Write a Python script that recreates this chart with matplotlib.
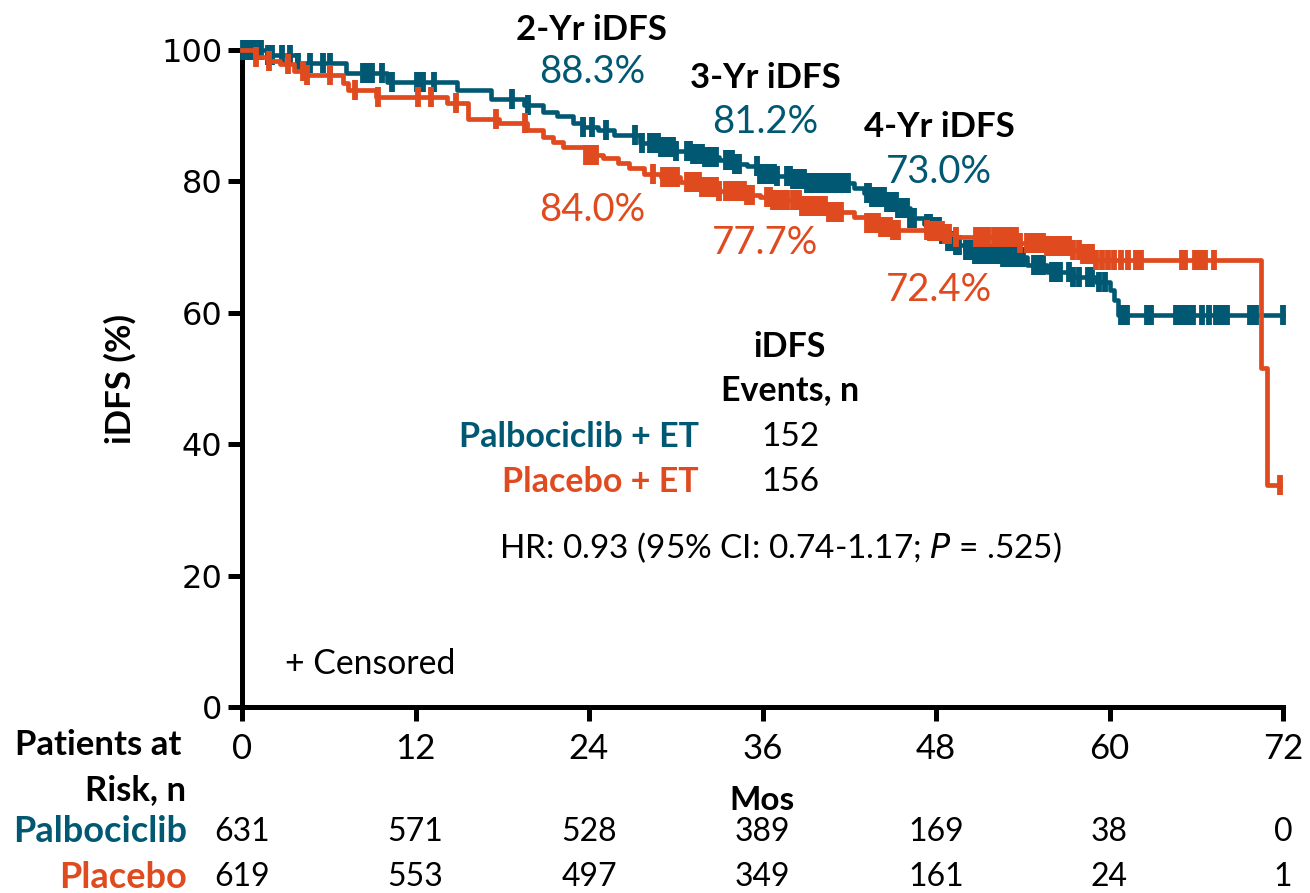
import numpy as np
import matplotlib
matplotlib.use("Agg")
import matplotlib.pyplot as plt
from matplotlib.transforms import blended_transform_factory

plt.rcParams["font.family"] = ["Lato", "DejaVu Sans"]

TEAL = "#005873"
ORANGE = "#E04A1F"

# Kaplan-Meier step curves (months, iDFS %)
palbo_times = [0, 1.7, 3.8, 7.2, 10.0, 14.9, 17.2, 19.5, 20.8, 21.8, 22.9, 23.6,
               24.6, 25.7, 27.5, 28.9, 30.0, 31.2, 32.0, 33.0, 34.0, 34.9, 35.8,
               37.0, 38.1, 39.1, 42.3, 43.0, 43.6, 44.6, 45.4, 46.2, 47.2, 47.8,
               48.3, 48.8, 49.4, 50.0, 50.6, 52.6, 54.3, 55.7, 57.5, 59.1, 60.0,
               60.3, 60.6]
palbo_surv = [100, 99.2, 98.0, 96.5, 95.2, 93.9, 92.6, 91.6, 90.6, 89.9, 88.9, 88.3,
              87.8, 87.1, 85.8, 85.2, 84.7, 84.2, 83.7, 83.2, 82.7, 82.3, 81.2,
              80.8, 80.4, 79.8, 79.0, 78.3, 77.6, 76.8, 76.0, 74.4, 73.5, 73.0,
              72.0, 71.0, 70.3, 69.5, 69.0, 68.5, 67.3, 66.2, 65.4, 64.7, 63.5,
              62.0, 59.7]
palbo_end = 72.0

placebo_times = [0, 0.9, 1.8, 2.6, 3.6, 4.4, 7.0, 7.3, 9.3, 14.2, 15.6, 17.8, 19.7,
                 20.8, 21.5, 22.2, 23.8, 25.0, 26.0, 26.8, 27.8, 29.0, 30.3, 31.7,
                 33.0, 34.9, 35.8, 36.7, 38.6, 40.5, 42.3, 43.2, 44.1, 45.0, 47.6,
                 48.5, 49.4, 53.6, 55.5, 57.3, 58.0, 59.0, 70.5, 70.9]
placebo_surv = [100, 99.0, 98.4, 97.8, 96.8, 96.2, 95.0, 93.9, 92.9, 91.9, 89.5, 88.9,
                87.8, 86.8, 86.0, 85.2, 84.0, 83.5, 82.8, 82.0, 81.2, 80.7, 79.9,
                79.2, 78.5, 77.9, 77.7, 77.2, 76.2, 75.3, 74.6, 73.7, 73.0, 72.6,
                72.4, 72.0, 71.5, 70.6, 70.2, 69.6, 69.0, 68.0, 51.6, 33.8]
placebo_end = 71.8

# Censoring times (months)
palbo_censor = [0.1, 0.3, 0.5, 0.7, 0.9, 1.1, 1.3, 1.8, 2.1, 2.8, 3.3, 3.9, 4.7, 5.6,
                6.1, 8.4, 8.6, 8.8, 9.0, 9.7, 10.4, 12.1, 12.3, 12.5, 13.3, 18.7, 19.8,
                23.6, 24.2, 25.2, 27.2, 27.7, 28.2, 28.4, 28.6, 28.8, 29.0, 29.2, 29.4,
                29.6, 29.8, 30.0, 30.8, 31.0, 31.2, 31.4, 31.6, 31.8, 32.0, 32.2, 32.4,
                32.6, 32.8, 33.5, 33.7, 33.9, 34.1, 34.4, 35.6, 35.8, 36.0, 36.2, 36.4,
                36.6, 36.8, 37.0, 37.7, 37.9, 38.1, 38.3, 38.5, 38.7, 38.9, 39.1, 39.3,
                39.5, 39.7, 39.9, 40.1, 40.3, 40.5, 40.7, 40.9, 41.1, 41.3, 41.5, 41.7,
                41.9, 43.2, 43.4, 43.6, 43.8, 44.0, 44.2, 44.4, 44.6, 44.8, 45.0, 45.2,
                45.4, 45.6, 45.8, 46.0, 46.2, 46.5, 47.4, 47.6, 47.8, 48.0, 48.2, 48.4,
                48.6, 48.8, 49.0, 49.2, 49.4, 49.6, 50.1, 50.3, 50.5, 50.7, 50.9, 51.1,
                51.4, 51.7, 52.0, 52.3, 52.6, 52.9, 53.2, 53.5, 53.8, 54.0, 54.8, 55.1,
                55.4, 56.0, 56.3, 56.6, 57.2, 57.5, 57.9, 58.5, 58.8, 59.3, 59.7,
                60.8, 61.0, 61.2, 62.6, 62.9, 64.6, 64.8, 65.0, 65.2, 65.4, 65.8, 66.4,
                66.9, 67.4, 67.6, 67.8, 68.1, 69.7, 69.9, 70.1, 72.0]
placebo_censor = [1.0, 1.9, 3.2, 4.2, 4.5, 6.1, 7.8, 9.4, 12.2, 13.1, 14.8, 17.6,
                  19.6, 23.8, 24.0, 24.2, 24.5, 28.4, 29.1, 29.3, 29.5, 29.7, 29.9,
                  30.1, 30.8, 31.0, 31.2, 31.4, 31.6, 31.8, 32.0, 32.2, 32.4, 32.6,
                  32.8, 33.0, 33.5, 33.7, 33.9, 34.1, 34.3, 34.5, 34.7, 34.9, 35.1,
                  35.3, 36.3, 36.5, 36.7, 36.9, 37.1, 37.3, 37.5, 37.7, 38.1, 38.3,
                  38.5, 38.7, 38.9, 39.1, 39.3, 39.5, 39.7, 39.9, 40.1, 40.3, 40.6,
                  40.8, 41.0, 41.2, 41.4, 43.2, 43.4, 43.6, 43.8, 44.0, 44.2, 44.4,
                  44.6, 44.8, 45.0, 45.2, 45.4, 47.4, 47.6, 47.9, 48.1, 48.4, 48.6,
                  48.9, 49.4, 50.8, 51.0, 51.3, 51.6, 52.0, 52.3, 52.6, 52.9, 53.2,
                  53.5, 53.8, 54.3, 54.6, 54.9, 55.2, 55.4, 55.7, 56.0, 56.3, 56.6,
                  56.9, 57.2, 57.5, 57.9, 58.2, 58.5, 58.8, 59.1, 59.5, 59.9, 60.3,
                  60.8, 61.3, 61.8, 62.2, 65.0, 65.2, 65.9, 66.1, 66.3, 66.6, 67.2,
                  71.8]

landmark_months = [24, 36, 48]
landmark_titles = ["2-Yr iDFS", "3-Yr iDFS", "4-Yr iDFS"]
palbo_landmark = ["88.3%", "81.2%", "73.0%"]
placebo_landmark = ["84.0%", "77.7%", "72.4%"]

risk_months = [0, 12, 24, 36, 48, 60, 72]
palbo_risk = [631, 571, 528, 389, 169, 38, 0]
placebo_risk = [619, 553, 497, 349, 161, 24, 1]

events = {"Palbociclib + ET": 152, "Placebo + ET": 156}


def surv_at(times, surv, t):
    idx = np.searchsorted(np.asarray(times), np.asarray(t), side="right") - 1
    return np.asarray(surv)[idx]


W, H = 1310, 893
fig = plt.figure(figsize=(W / 100, H / 100), dpi=100)
ax = fig.add_axes([242 / W, (H - 707) / H, (1283 - 242) / W, (707 - 50) / H])


def draw_arm(times, surv, end, censor, color, lw):
    t = list(times) + [end]
    s = list(surv) + [surv[-1]]
    ax.step(t, s, where="post", color=color, lw=lw, clip_on=False,
            solid_joinstyle="round", zorder=3)
    ax.plot(censor, surv_at(times, surv, censor), ls="none", marker="|",
            ms=14, mew=4.2, color=color, clip_on=False, zorder=3)


draw_arm(palbo_times, palbo_surv, palbo_end, palbo_censor, TEAL, 3.3)
draw_arm(placebo_times, placebo_surv, placebo_end, placebo_censor, ORANGE, 3.4)

ax.set_xlim(0, 72)
ax.set_ylim(0, 100)
ax.set_xticks(risk_months)
ax.set_yticks([0, 20, 40, 60, 80, 100])
for side in ["top", "right"]:
    ax.spines[side].set_visible(False)
for side in ["left", "bottom"]:
    ax.spines[side].set_linewidth(3.6)
ax.tick_params(axis="both", direction="out", length=10, width=3.6)
ax.tick_params(axis="x", labelsize=25, pad=9)
ax.tick_params(axis="y", pad=4, labelsize=23, labelfontfamily="DejaVu Sans")
ax.set_ylabel("iDFS (%)", fontsize=25, fontweight="bold", labelpad=18)

# Landmark estimates
title_y = [103.0, 95.7, 88.3]
palbo_y = [96.6, 89.0, 81.4]
placebo_y = [75.6, 70.6, 63.5]
for m, ttl, pv, qv, ty, py, qy in zip(landmark_months, landmark_titles, palbo_landmark,
                                       placebo_landmark, title_y, palbo_y, placebo_y):
    ax.text(m + 0.2, ty, ttl, ha="center", va="center", fontsize=25,
            fontweight="bold", clip_on=False)
    ax.text(m + 0.2, py, pv, ha="center", va="center", fontsize=27.5, color=TEAL)
    ax.text(m + 0.2, qy, qv, ha="center", va="center", fontsize=27.5, color=ORANGE)

# Events box
ax.text(37.9, 54.8, "iDFS", ha="center", va="center", fontsize=24.5, fontweight="bold")
ax.text(37.9, 48.2, "Events, n", ha="center", va="center", fontsize=24.5, fontweight="bold")
for (name, n), y, col in zip(events.items(), [41.1, 34.2], [TEAL, ORANGE]):
    ax.text(31.6, y, name, ha="right", va="center", fontsize=24.5, fontweight="bold", color=col)
    ax.text(37.9, y, str(n), ha="center", va="center", fontsize=24)
ax.text(17.8, 24.2, "HR: 0.93 (95% CI: 0.74-1.17; $\\mathit{P}$ = .525)",
        ha="left", va="center", fontsize=24)
ax.text(3.0, 6.5, "+ Censored", ha="left", va="center", fontsize=24.3)

# Patients at risk table
tf = blended_transform_factory(ax.transData, fig.transFigure)


def fy(px):
    return (H - px) / H


ax.text(0.5, fy(800), "Mos", transform=blended_transform_factory(ax.transAxes, fig.transFigure),
        ha="center", va="center", fontsize=24, fontweight="bold")
fig.text(15 / W, fy(745), "Patients at", ha="left", va="center", fontsize=25, fontweight="bold")
fig.text(186 / W, fy(790), "Risk, n", ha="right", va="center", fontsize=25, fontweight="bold")
fig.text(187 / W, fy(832), "Palbociclib", ha="right", va="center", fontsize=26,
         fontweight="bold", color=TEAL)
fig.text(187 / W, fy(877), "Placebo", ha="right", va="center", fontsize=26,
         fontweight="bold", color=ORANGE)
for m, a, b in zip(risk_months, palbo_risk, placebo_risk):
    ax.text(m, fy(832), str(a), transform=tf, ha="center", va="center", fontsize=23)
    ax.text(m, fy(877), str(b), transform=tf, ha="center", va="center", fontsize=23)

fig.savefig("out.png", dpi=100)
